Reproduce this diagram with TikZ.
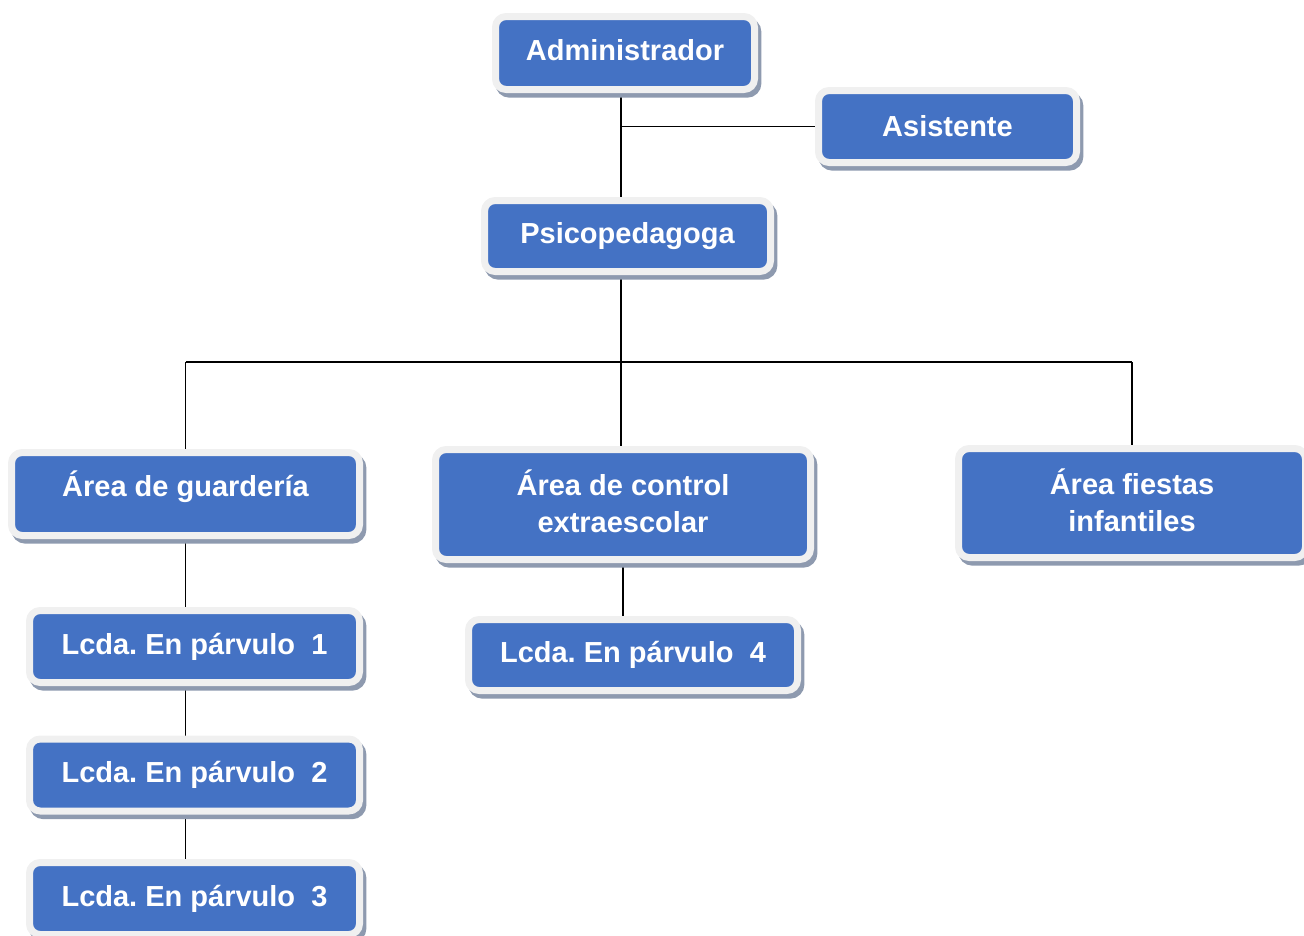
\documentclass[tikz,border=0pt]{standalone}
\usepackage{fontspec}
\setmainfont{Liberation Sans}
\usetikzlibrary{shadows,backgrounds}
\definecolor{boxblue}{HTML}{4472C4}
\definecolor{boxrim}{HTML}{F0F0F0}
\definecolor{boxshade}{HTML}{8E9AAF}
\frenchspacing
\tikzset{
    orgbox/.style={rectangle, rounded corners=8pt, fill=boxblue, draw=boxrim,
        line width=5.25pt, text=white, align=center, inner sep=0pt,
        font=\fontsize{21.75}{27.75}\selectfont\bfseries,
        drop shadow={shadow xshift=2.5pt, shadow yshift=-3.5pt, opacity=1,
            fill=boxshade, draw=boxshade, line width=5.25pt}},
    lcdabox/.style={orgbox, minimum width=247.5pt, minimum height=54pt},
    link/.style={line width=1.3pt, black}
}
\begin{document}
\begin{tikzpicture}[x=0.75pt, y=-0.75pt]
    \clip (0,0) rectangle (1304,936);

    \node[orgbox, minimum width=194.25pt, minimum height=54.75pt, text depth=4.5pt] (admin) at (625,53) {Administrador};
    \node[orgbox, minimum width=193.5pt, minimum height=54pt] (asist) at (947.5,126.5) {Asistente};
    \node[orgbox, minimum width=214.5pt, minimum height=53.25pt] (psico) at (627.5,236) {Psicopedagoga};

    \node[orgbox, minimum width=261pt, minimum height=62.25pt, text depth=15pt] (guard) at (185.5,494) {Área de guardería};
    \node[orgbox, minimum width=281.25pt, minimum height=82.5pt, text depth=4.5pt] (control) at (623,504.5) {Área de control\\extraescolar};
    \node[orgbox, minimum width=260.25pt, minimum height=81.75pt, text depth=4.5pt] (fiestas) at (1132,503) {Área fiestas\\infantiles};

    \node[lcdabox] (lcda1) at (194.5,646.5) {Lcda. En párvulo\ \ 1};
    \node[lcdabox] (lcda2) at (194.5,775) {Lcda. En párvulo\ \ 2};
    \node[lcdabox] (lcda3) at (194.5,898.5) {Lcda. En párvulo\ \ 3};
    \node[lcdabox, minimum width=246.75pt, minimum height=53.25pt] (lcda4) at (633,655) {Lcda. En párvulo\ \ 4};

    \coordinate (trunk) at (621,126.5);
    \coordinate (bus) at (621,362);

    \begin{scope}[on background layer]
        \draw[link] (admin.south -| trunk) -- (psico.north -| trunk);
        \draw[link] (trunk) -- (asist.west);
        \draw[link] (psico.south -| bus) -- (control.north -| bus);
        \draw[link] (guard.north |- bus) -- (fiestas.north |- bus);
        \draw[link] (bus -| guard.north) -- (guard.north);
        \draw[link] (bus -| fiestas.north) -- (fiestas.north);
        \draw[link] (guard.south) -- (guard.south |- lcda1.north);
        \draw[link] (lcda1.south -| guard.south) -- (lcda2.north -| guard.south);
        \draw[link] (lcda2.south -| guard.south) -- (lcda3.north -| guard.south);
        \draw[link] (control.south) -- (control.south |- lcda4.north);
    \end{scope}
\end{tikzpicture}
\end{document}
